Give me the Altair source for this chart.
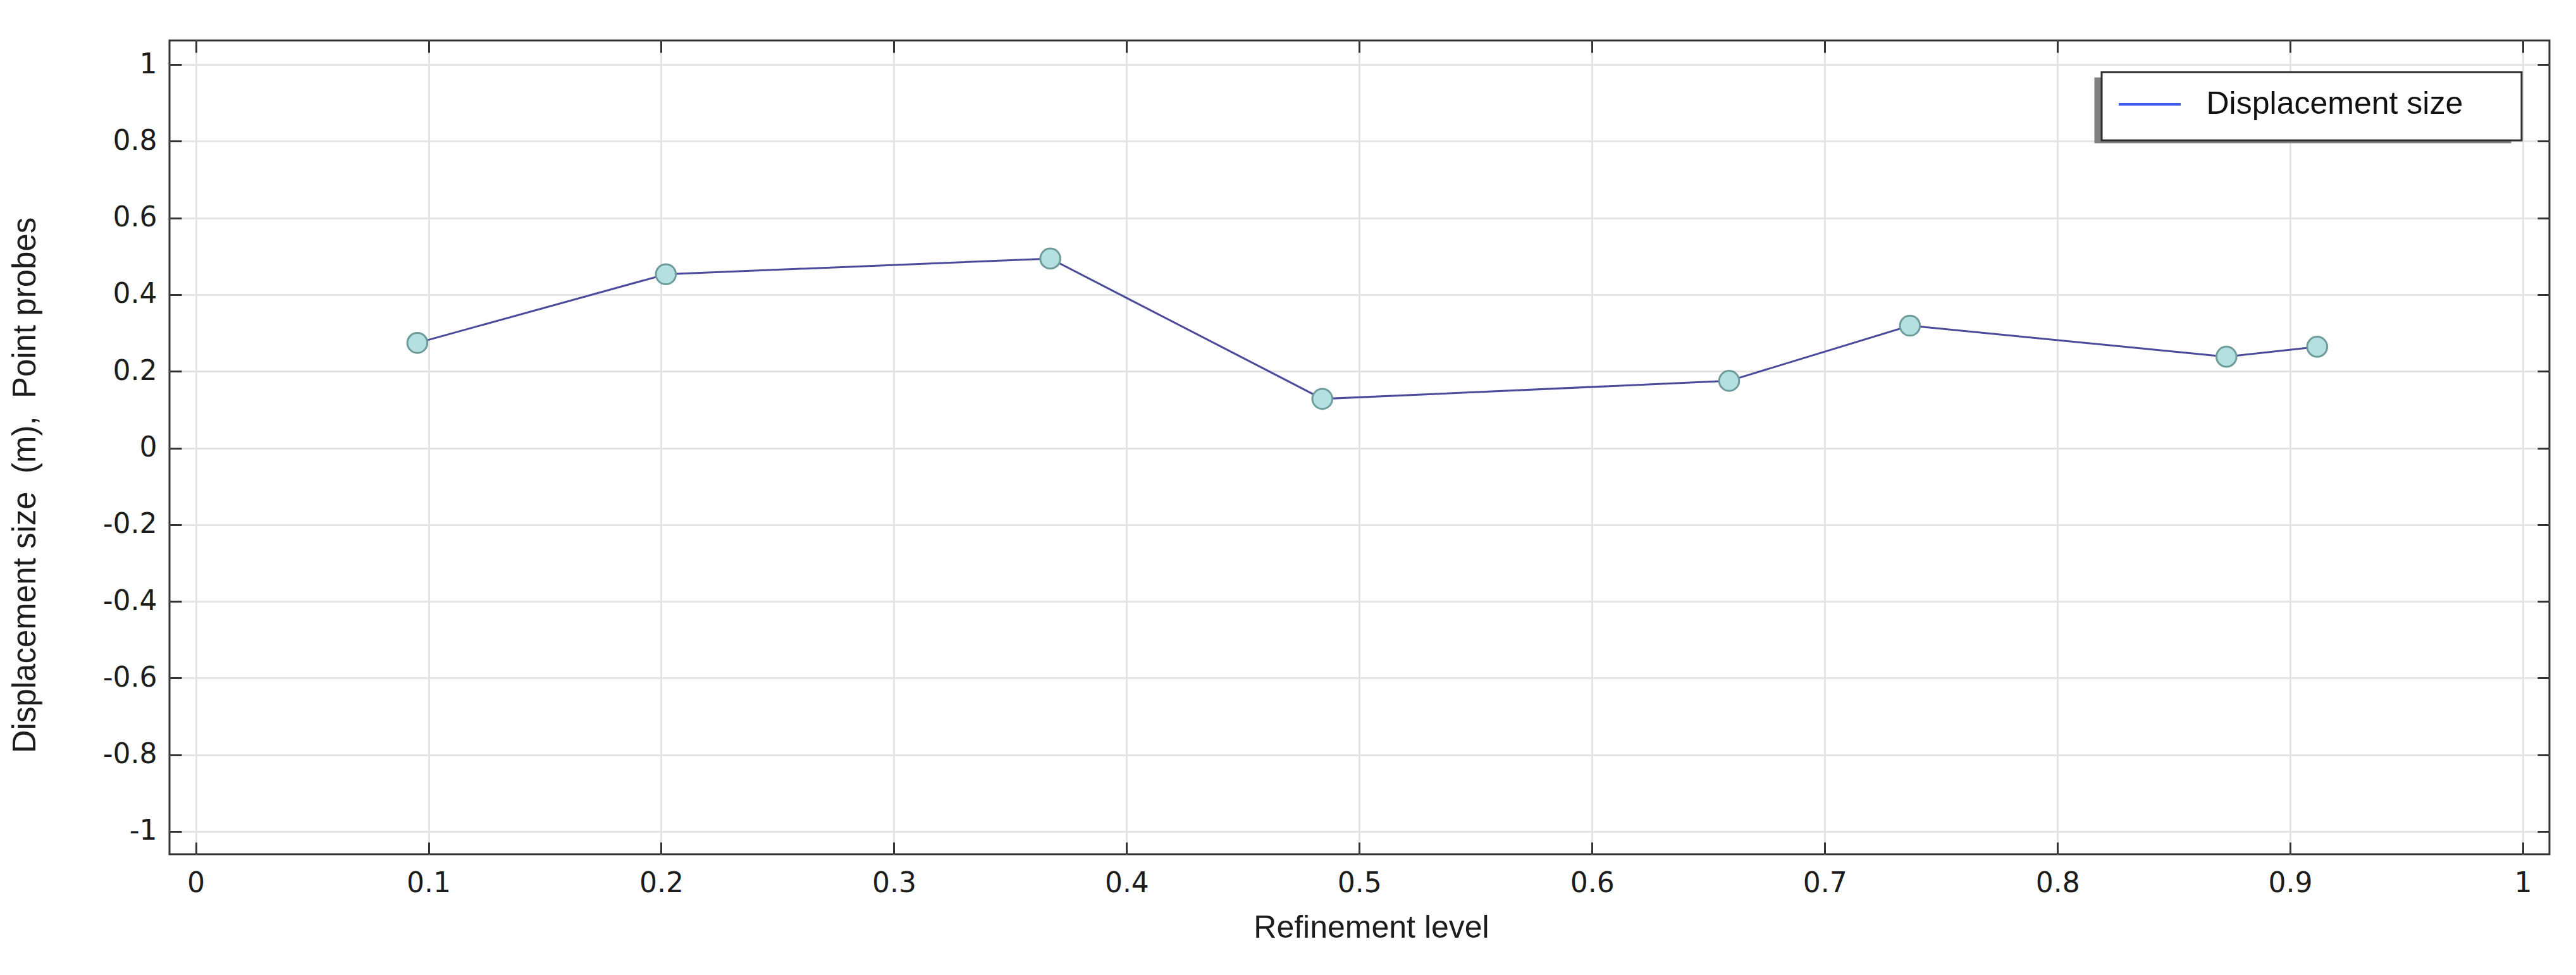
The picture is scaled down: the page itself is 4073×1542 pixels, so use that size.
import altair as alt
import pandas as pd

# ---- data ----
refinement = [0.0952, 0.2020, 0.3672, 0.4841, 0.6589, 0.7366, 0.8726, 0.9116]
displacement = [0.274, 0.453, 0.494, 0.128, 0.175, 0.319, 0.238, 0.264]
series = ["Displacement size"]
x_ticks = [0, 0.1, 0.2, 0.3, 0.4, 0.5, 0.6, 0.7, 0.8, 0.9, 1]
y_ticks = [-1, -0.8, -0.6, -0.4, -0.2, 0, 0.2, 0.4, 0.6, 0.8, 1]
x_title = "Refinement level"
NB = "\u00a0"
y_title = "Displacement size" + NB * 2 + "(m)," + NB * 2 + "Point probes"

W, H = 3763, 1287

df = pd.DataFrame({
    "level": refinement,
    "disp": displacement,
    "series": series * len(refinement),
})

xs = alt.Scale(domain=[-0.0113, 1.0114], nice=False, zero=False)
ys = alt.Scale(domain=[-1.0594, 1.0627], nice=False, zero=False)

LABEL_FONT = "DejaVu Sans"
TEXT_FONT = "Liberation Sans"
GRID = "#e4e4e4"
INK = "#1c1c1c"


def tick_axis(orient, values, offset):
    return alt.Axis(orient=orient, offset=offset, values=values, ticks=True,
                    tickSize=19, tickWidth=3, tickColor="#333333",
                    labels=False, domain=False, grid=False, title=None)


x_main = alt.Axis(orient="bottom", values=x_ticks, labelExpr="toString(datum.value)",
                  labelFont=LABEL_FONT, labelFontSize=44, labelColor=INK,
                  labelPadding=59, labelBaseline="alphabetic", labelFlush=False,
                  labelOverlap=False, ticks=False, tickSize=0, domain=False,
                  grid=True, gridColor=GRID, gridWidth=3,
                  title=x_title, titleFont=TEXT_FONT, titleFontSize=50,
                  titleFontWeight="normal", titleColor=INK, titleX=1900, titleY=131,
                  titleAlign="center", titleBaseline="alphabetic")

y_main = alt.Axis(orient="left", values=y_ticks, labelExpr="toString(datum.value)",
                  labelFont=LABEL_FONT, labelFontSize=44, labelColor=INK,
                  labelPadding=20, labelBaseline="middle", labelOverlap=False,
                  ticks=False, tickSize=0, domain=False,
                  grid=True, gridColor=GRID, gridWidth=3,
                  title=y_title, titleFont=TEXT_FONT, titleFontSize=51,
                  titleFontWeight="normal", titleColor=INK, titleAngle=270,
                  titleX=-213, titleY=703, titleAlign="center",
                  titleBaseline="alphabetic", titleLimit=2000)

# legend symbol: a short line; the trailing move-to points only widen the box
LEG_SYMBOL = "M-2,0H2M22.67,-1M22.67,1"
legend_common = dict(orient="none", symbolType=LEG_SYMBOL, symbolSize=2401,
                     symbolStrokeWidth=4, labelFont=TEXT_FONT, labelFontSize=50,
                     labelLimit=1500, padding=24.5, symbolOffset=25, labelOffset=63,
                     title=None, cornerRadius=0)

main_legend = alt.Legend(legendX=3055, legendY=50, fillColor="white",
                         strokeColor="#2e2e2e", labelColor="#111111",
                         **legend_common)
shadow_legend = alt.Legend(legendX=3045, legendY=60, fillColor="#808080",
                           strokeColor="#808080", labelColor="#808080",
                           symbolOpacity=0, labelExpr="''", **legend_common)

empty = alt.Chart(df).transform_filter("false")

shadow_layer = empty.mark_point(filled=True, opacity=0, size=10).encode(
    x=alt.X("level:Q", scale=xs, axis=tick_axis("bottom", x_ticks, -H)),
    y=alt.Y("disp:Q", scale=ys, axis=tick_axis("left", y_ticks, -W)),
    fill=alt.Fill("series:N", scale=alt.Scale(domain=["shadow"], range=["#808080"]),
                  legend=shadow_legend),
)

legend_layer = empty.mark_line(strokeWidth=4).encode(
    x=alt.X("level:Q", scale=xs, axis=None),
    y=alt.Y("disp:Q", scale=ys, axis=None),
    stroke=alt.Stroke("series:N", scale=alt.Scale(domain=series, range=["#3d5cf0"]),
                      legend=main_legend),
)

line = alt.Chart(df).mark_line(color="#4b4b9b", strokeWidth=3).encode(
    x=alt.X("level:Q", scale=xs, axis=x_main),
    y=alt.Y("disp:Q", scale=ys, axis=y_main),
)

points = alt.Chart(df).mark_circle(size=1000, fill="#b5e0e2", stroke="#6e9c9a",
                                   strokeWidth=3, opacity=1).encode(
    x=alt.X("level:Q", scale=xs, axis=tick_axis("top", x_ticks, -H)),
    y=alt.Y("disp:Q", scale=ys, axis=tick_axis("right", y_ticks, -W)),
)

chart = (
    alt.layer(shadow_layer, legend_layer, line, points)
    .resolve_axis(x="independent", y="independent")
    .properties(width=W, height=H,
                padding={"left": 260, "top": 56, "right": 30, "bottom": 150},
                autosize=alt.AutoSizeParams(type="none"),
                background="white")
    .configure_view(stroke="#333333", strokeWidth=3)
    .configure_legend(strokeWidth=3)
)

chart.save("out.html", embed_options={"renderer": "svg", "actions": False})
